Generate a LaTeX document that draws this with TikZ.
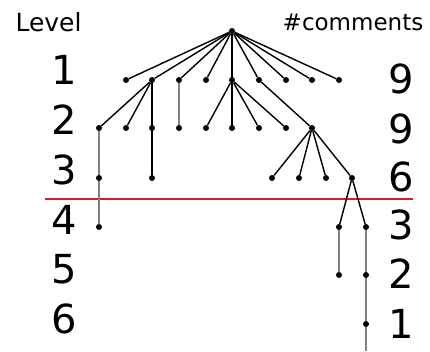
\documentclass[tikz,border=0pt]{standalone}
\usepackage{fontspec}
\setmainfont{DejaVu Sans}
\definecolor{cutred}{RGB}{215,30,30}
\begin{document}
\begin{tikzpicture}[x=1pt,y=-1pt,
  dot/.style={circle,fill=black,inner sep=0pt,minimum size=6pt},
  edge/.style={draw=black,line width=1.4pt},
  gedge/.style={draw=black!50,line width=1.4pt},
  big/.style={font=\fontsize{40}{44}\selectfont,anchor=base,inner sep=0pt},
  hdr/.style={anchor=base,inner sep=0pt}]
\useasboundingbox (0,0) rectangle (430,351);
% headers
\node[hdr,font=\fontsize{25}{28}\selectfont] (lvl) at (48.5,31) {Level};
\node[hdr,font=\fontsize{23}{26}\selectfont] (cmt) at (353,30) {\#comments};
% left digits
\foreach \i/\b in {1/84,2/134,3/184,4/234,5/283,6/333}
  \node[big] (L\i) at (64,\b) {\i};
% right digits
\foreach \n/\v/\b in {1/9/93,2/9/143,3/6/191,4/3/239,5/2/288,6/1/338}
  \node[big] (R\n) at (401,\b) {\v};
% red line
\coordinate (rl1) at (45,199);
\coordinate (rl2) at (413,199);
\draw[cutred,line width=1.8pt] (rl1) -- (rl2);
% nodes
\node[dot] (r) at (232,31) {};
\foreach \n/\x in {1/126,2/152,3/179,4/206,5/232,6/259,7/286,8/312,9/339}
  \node[dot] (a\n) at (\x,80) {};
\foreach \n/\x in {1/99,2/126,3/152,4/179,5/206,6/232,7/259,8/286,9/312}
  \node[dot] (b\n) at (\x,128) {};
\foreach \n/\x in {1/99,2/152,3/272,4/299,5/326,6/352}
  \node[dot] (c\n) at (\x,178) {};
\node[dot] (d1) at (99,227) {};
\node[dot] (d2) at (339,227) {};
\node[dot] (d3) at (366,227) {};
\node[dot] (e1) at (339,275) {};
\node[dot] (e2) at (366,275) {};
\node[dot] (f1) at (366,324) {};
\coordinate (end) at (366,351);
% edges
\foreach \n in {1,...,9} \draw[edge] (r) -- (a\n);
\draw[edge] (a2) -- (b1);
\draw[edge] (a2) -- (b2);
\draw[edge] (a2) -- (b3);
\draw[gedge] (a3) -- (b4);
\foreach \n in {5,6,7,8} \draw[edge] (a5) -- (b\n);
\draw[edge] (a6) -- (b9);
\draw[gedge] (b1) -- (c1);
\draw[edge] (b3) -- (c2);
\foreach \n in {3,4,5,6} \draw[edge] (b9) -- (c\n);
\draw[gedge] (c1) -- (d1);
\draw[edge] (c6) -- (d2);
\draw[edge] (c6) -- (d3);
\draw[gedge] (d2) -- (e1);
\draw[gedge] (d3) -- (e2);
\draw[gedge] (e2) -- (f1);
\draw[gedge] (f1) -- (end);
\end{tikzpicture}
\end{document}
